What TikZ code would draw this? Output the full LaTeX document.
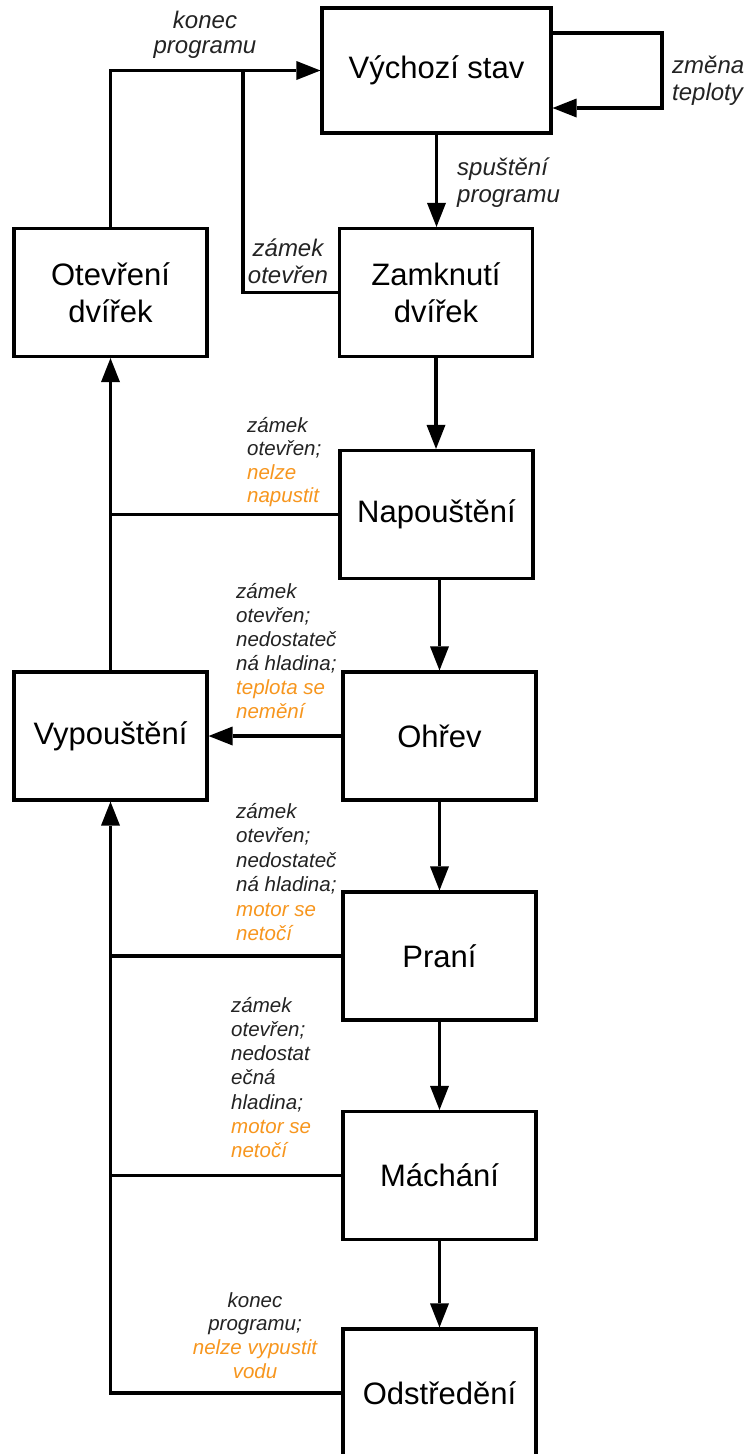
\documentclass[tikz,border=0pt]{standalone}
\usepackage{fontspec}
\setmainfont{Liberation Sans}
\usetikzlibrary{arrows.meta}
\definecolor{lblorange}{RGB}{247,150,30}
\definecolor{lblgray}{RGB}{35,35,35}
\begin{document}
\begin{tikzpicture}[x=1pt,y=-1pt,
  box/.style={draw, line width=3.2pt, minimum width=193pt, minimum height=128pt, align=center, font=\fontsize{31}{37}\selectfont, inner sep=0pt},
  conn/.style={line width=3.2pt},
  arr/.style={conn, -{Triangle[length=24pt,width=19pt,line width=0pt]}},
  lbl/.style={inner sep=0pt, font=\fontsize{20.5}{24}\selectfont\itshape, text=lblgray},
  lblbig/.style={inner sep=0pt, font=\fontsize{24}{26.5}\selectfont\itshape, text=lblgray}]
\path[fill=white] (0,0) rectangle (749,1454);
\useasboundingbox (0,0) rectangle (749,1454);

% boxes
\node[box, minimum width=229pt, minimum height=125pt] (V) at (436.5,70.5) {Výchozí stav};
\node[box] (Z) at (436,292.5) {Zamknutí\\dvířek};
\node[box] (O) at (110.5,292.5) {Otevření\\dvířek};
\node[box] (N) at (436.5,514.5) {Napouštění};
\node[box] (H) at (439.5,736) {Ohřev};
\node[box] (Y) at (110.5,736) {Vypouštění};
\node[box] (P) at (439.5,956) {Praní};
\node[box] (M) at (439.5,1175.5) {Máchání};
\node[box] (S) at (439.5,1393) {Odstředění};

% connectors
\coordinate (jz) at (243,70.5);
\coordinate (la) at (662,33);
\coordinate (lb) at (662,108);
\draw[arr] (O.north) |- (V.west);
\draw[conn] (Z.west) -| (jz);
\draw[arr] (V.east |- la) -- (la) -- (lb) -- (V.east |- lb);
\draw[arr] (V.south) -- (V.south |- Z.north);
\draw[arr] (Z.south) -- (Z.south |- N.north);
\draw[arr] (H.north |- N.south) -- (H.north);
\draw[arr] (Y.north) -- (O.south);
\draw[conn] (N.west) -- (N.west -| O.south);
\draw[arr] (H.west) -- (Y.east);
\draw[arr] (H.south) -- (P.north);
\draw[arr] (P.south) -- (M.north);
\draw[arr] (M.south) -- (S.north);
\draw[arr] (S.west) -| (Y.south);
\draw[conn] (P.west) -- (P.west -| Y.south);
\draw[conn] (M.west) -- (M.west -| Y.south);

% labels
\node[lblbig, anchor=base, font=\fontsize{24}{25}\selectfont\itshape] (l1) at (205,28) {\begin{tabular}[t]{@{}c@{}}konec\\programu\end{tabular}};
\node[lblbig, anchor=base west, font=\fontsize{24}{27}\selectfont\itshape] (l2) at (457,175) {\begin{tabular}[t]{@{}l@{}}spuštění\\programu\end{tabular}};
\node[lblbig, anchor=base west, font=\fontsize{24}{27}\selectfont\itshape] (l3) at (672,73) {\begin{tabular}[t]{@{}l@{}}změna\\teploty\end{tabular}};
\node[lblbig, anchor=base, font=\fontsize{24}{27}\selectfont\itshape] (l4) at (288,256) {\begin{tabular}[t]{@{}c@{}}zámek\\otevřen\end{tabular}};
\node[lbl, anchor=base west, font=\fontsize{20.5}{23.5}\selectfont\itshape] (l5) at (247,432) {\begin{tabular}[t]{@{}l@{}}zámek\\otevřen;\\\textcolor{lblorange}{nelze}\\\textcolor{lblorange}{napustit}\end{tabular}};
\node[lbl, anchor=base west] (l6) at (236,598) {\begin{tabular}[t]{@{}l@{}}zámek\\otevřen;\\nedostateč\\ná hladina;\\\textcolor{lblorange}{teplota se}\\\textcolor{lblorange}{nemění}\end{tabular}};
\node[lbl, anchor=base west, font=\fontsize{20.5}{24.5}\selectfont\itshape] (l7) at (236,818) {\begin{tabular}[t]{@{}l@{}}zámek\\otevřen;\\nedostateč\\ná hladina;\\\textcolor{lblorange}{motor se}\\\textcolor{lblorange}{netočí}\end{tabular}};
\node[lbl, anchor=base west, font=\fontsize{20.5}{24.3}\selectfont\itshape] (l8) at (231,1012) {\begin{tabular}[t]{@{}l@{}}zámek\\otevřen;\\nedostat\\ečná\\hladina;\\\textcolor{lblorange}{motor se}\\\textcolor{lblorange}{netočí}\end{tabular}};
\node[lbl, anchor=base, font=\fontsize{20.5}{23.7}\selectfont\itshape] (l9) at (255,1307) {\begin{tabular}[t]{@{}c@{}}konec\\programu;\\\textcolor{lblorange}{nelze vypustit}\\\textcolor{lblorange}{vodu}\end{tabular}};
\end{tikzpicture}
\end{document}
